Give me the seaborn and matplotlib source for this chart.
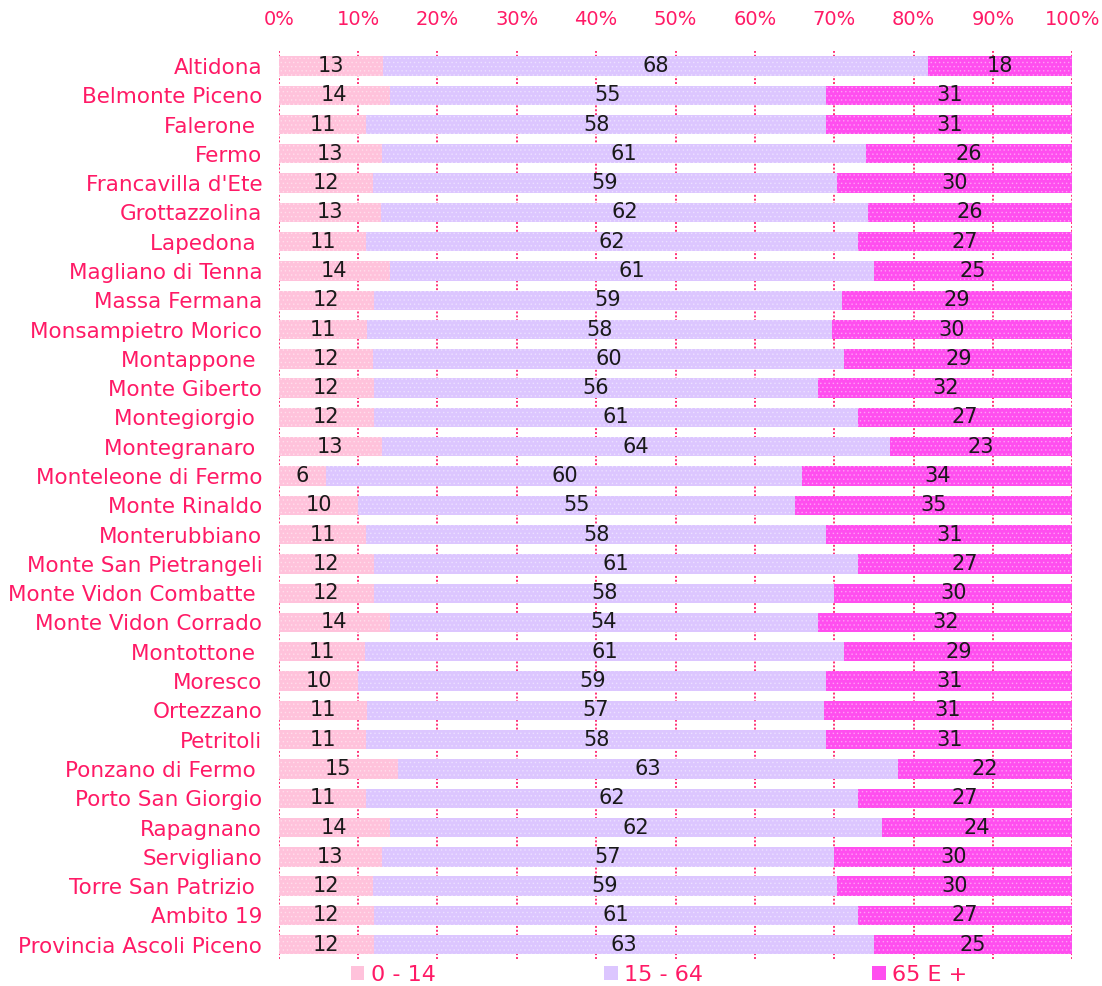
import matplotlib
matplotlib.use('Agg')
import matplotlib.pyplot as plt
import numpy as np
import pandas as pd
import seaborn as sns
from matplotlib.ticker import FuncFormatter
from matplotlib.patches import Patch

comuni = ['Altidona', 'Belmonte Piceno', 'Falerone ', 'Fermo', "Francavilla d'Ete",
          'Grottazzolina', 'Lapedona ', 'Magliano di Tenna', 'Massa Fermana',
          'Monsampietro Morico', 'Montappone ', 'Monte Giberto', 'Montegiorgio ',
          'Montegranaro ', 'Monteleone di Fermo', 'Monte Rinaldo', 'Monterubbiano',
          'Monte San Pietrangeli', 'Monte Vidon Combatte ', 'Monte Vidon Corrado',
          'Montottone ', 'Moresco', 'Ortezzano', 'Petritoli', 'Ponzano di Fermo ',
          'Porto San Giorgio', 'Rapagnano', 'Servigliano', 'Torre San Patrizio ',
          'Ambito 19', 'Provincia Ascoli Piceno']

# percentuali per fascia d'eta'
eta_0_14 = [13, 14, 11, 13, 12, 13, 11, 14, 12, 11, 12, 12, 12, 13, 6, 10, 11,
            12, 12, 14, 11, 10, 11, 11, 15, 11, 14, 13, 12, 12, 12]
eta_15_64 = [68, 55, 58, 61, 59, 62, 62, 61, 59, 58, 60, 56, 61, 64, 60, 55, 58,
             61, 58, 54, 61, 59, 57, 58, 63, 62, 62, 57, 59, 61, 63]
eta_65 = [18, 31, 31, 26, 30, 26, 27, 25, 29, 30, 29, 32, 27, 23, 34, 35, 31,
          27, 30, 32, 29, 31, 31, 31, 22, 27, 24, 30, 30, 27, 25]

series = ['0 - 14', '15 - 64', '65 E +']
colori = ['#ffc2db', '#dcc6ff', '#ff4eef']
rosa = '#ff1a66'

df = pd.DataFrame({'comune': comuni, '0 - 14': eta_0_14,
                   '15 - 64': eta_15_64, '65 E +': eta_65})
tot = df[series].sum(axis=1)
share = df[series].div(tot, axis=0) * 100
cum = share.cumsum(axis=1)
cum['comune'] = df['comune']

sns.set_style('white')
plt.rcParams['font.family'] = ['DejaVu Sans']
plt.rcParams['hatch.linewidth'] = 0.6

fig = plt.figure(figsize=(11.02, 9.86), dpi=100)
ax = fig.add_axes([0.253, 0.027, 0.720, 0.921])

# gridlines behind bars
ax.set_axisbelow(True)
ax.xaxis.grid(True, color='#ff3377', linestyle=(0, (1, 1)), linewidth=1.4)

# stacked bars: draw cumulative widths from the widest down
for s, c in reversed(list(zip(series, colori))):
    sns.barplot(data=cum, x=s, y='comune', orient='h', color=c, width=0.66,
                saturation=1, ax=ax, edgecolor='none', linewidth=0)

for p in ax.patches:
    p.set_hatch('....')
    p.set_edgecolor((1, 1, 1, 0.35))
    p.set_linewidth(0)

# value labels
for i in range(len(df)):
    left = 0
    for s in series:
        w = share.loc[i, s]
        ax.text(left + w / 2, i, f'{df.loc[i, s]:d}', ha='center', va='center',
                fontsize=15, color='#1a1a1a')
        left += w

ax.set_xlim(0, 100)
ax.set_ylim(len(df) - 0.5, -0.5)
ax.set_xticks(np.arange(0, 101, 10))
ax.xaxis.set_major_formatter(FuncFormatter(lambda v, _: f'{v:.0f}%'))
ax.xaxis.tick_top()
ax.tick_params(axis='x', length=0, pad=16, labelsize=14, labelcolor=rosa)
ax.tick_params(axis='y', length=0, pad=12, labelsize=15.5, labelcolor=rosa)
ax.set_xlabel('')
ax.set_ylabel('')
for sp in ax.spines.values():
    sp.set_visible(False)

handles = [Patch(facecolor=c, edgecolor='none', hatch='....') for c in colori]
fig.legend(handles, series, loc='center', bbox_to_anchor=(0.598, 0.011), ncol=3,
           frameon=False, fontsize=16, labelcolor=rosa, handlelength=0.6,
           handleheight=0.6, handletextpad=0.3, columnspacing=7.6)

fig.savefig('out.png', dpi=100)
